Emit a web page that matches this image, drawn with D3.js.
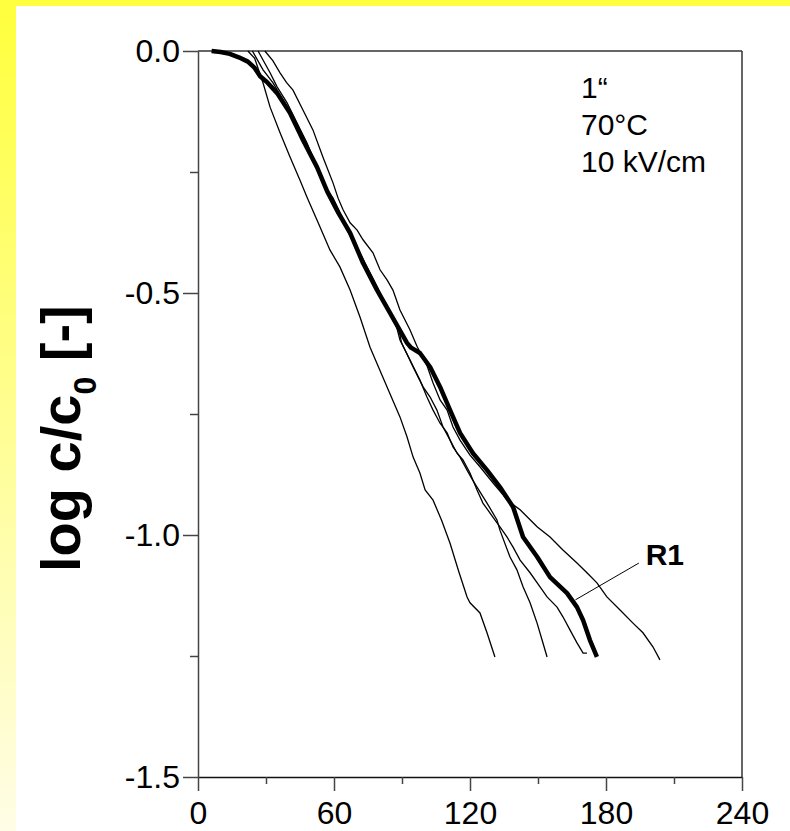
<!DOCTYPE html>
<html>
<head>
<meta charset="utf-8">
<script src="https://cdn.jsdelivr.net/npm/d3@7"></script>
<style>
  html, body { margin: 0; padding: 0; background: #fff; }
  svg { display: block; }
  text { font-family: "Liberation Sans", Arial, sans-serif; fill: #000; }
</style>
</head>
<body>
<div id="chart"></div>
<script>
// time on x, log c/c0 on y -- five runs, R1 drawn thick
const xTicks = [0, 60, 120, 180, 240];
const xMinor = [30, 90, 150, 210];
const yTicks = [0, -0.5, -1.0, -1.5];
const yMinor = [-0.25, -0.75, -1.25];

const r1X = [6, 10, 14, 18, 22, 25, 27.4, 30.4, 34.9, 40.6, 46.3, 52.5, 57, 62, 67.1, 72.8, 79, 84.7, 92.2, 94, 97.9, 102.4, 106.8, 111.2, 115.6, 121.3, 127.5, 133.2, 139, 143.4, 149.6, 155.3, 162.8, 167.2, 169.9, 172.9, 176];
const r1Y = [0, -0.002, -0.006, -0.013, -0.022, -0.035, -0.052, -0.064, -0.087, -0.128, -0.184, -0.240, -0.29, -0.335, -0.376, -0.438, -0.494, -0.541, -0.603, -0.613, -0.624, -0.653, -0.694, -0.742, -0.789, -0.831, -0.866, -0.901, -0.942, -1.004, -1.045, -1.087, -1.120, -1.149, -1.176, -1.217, -1.252];

const bX = [22, 25, 28.7, 31.8, 36.2, 40.6, 45, 48.1, 53.5, 58.2, 62.6, 67.1, 71.5, 75.9, 80, 84.5, 89.1, 92.2, 94.9, 97.9, 100.2, 103.7, 107.5, 111.2, 115, 118.7, 120, 124.4, 127.5, 131];
const bY = [0, -0.015, -0.066, -0.116, -0.169, -0.219, -0.267, -0.302, -0.36, -0.411, -0.446, -0.494, -0.550, -0.612, -0.657, -0.706, -0.756, -0.797, -0.839, -0.872, -0.907, -0.928, -0.97, -1.017, -1.075, -1.128, -1.140, -1.161, -1.202, -1.252];

const cX = [24, 28.7, 33.1, 37.5, 41.9, 46.3, 50.7, 55.1, 58.2, 62, 65.5, 69, 72.5, 76, 80, 84, 87.5, 89.1, 93.5, 97.9, 101, 103.7, 106.8, 109.9, 112.5, 115.6, 118.7, 121, 123.1, 127.5, 131.9, 133.2, 137.6, 140.7, 143.4, 146.5, 149.6, 151.8, 154];
const cY = [0, -0.039, -0.066, -0.101, -0.136, -0.178, -0.219, -0.267, -0.302, -0.335, -0.368, -0.398, -0.43, -0.462, -0.5, -0.535, -0.568, -0.597, -0.638, -0.680, -0.715, -0.742, -0.769, -0.789, -0.818, -0.839, -0.866, -0.885, -0.901, -0.934, -0.969, -0.990, -1.045, -1.072, -1.107, -1.140, -1.182, -1.217, -1.252];

const dX = [26.5, 31.8, 34.9, 39.3, 43.7, 48.1, 52.5, 56.9, 59.6, 63, 66.5, 70, 73.5, 77, 81, 85, 88.5, 89.8, 94.9, 99.3, 102.4, 105.4, 108.1, 111.2, 114.3, 116.9, 120, 123.1, 125.7, 130.1, 133.2, 136.3, 139, 142.1, 146.5, 150.9, 154, 158.4, 161, 164.1, 167.2, 169.9, 171.6];
const dY = [0, -0.045, -0.074, -0.107, -0.149, -0.190, -0.240, -0.287, -0.304, -0.338, -0.372, -0.404, -0.436, -0.468, -0.506, -0.54, -0.573, -0.603, -0.653, -0.694, -0.715, -0.742, -0.777, -0.804, -0.831, -0.845, -0.872, -0.907, -0.934, -0.963, -0.983, -1.004, -1.025, -1.052, -1.078, -1.107, -1.128, -1.149, -1.169, -1.196, -1.223, -1.244, -1.244];

const eX = [29.5, 33, 36.2, 39, 41.9, 46.3, 50.7, 55.1, 59.6, 61.8, 64, 67.1, 70.2, 72.8, 77.2, 80.3, 83.4, 86, 89.1, 93.5, 96.6, 101, 103.7, 106.8, 109.9, 112.5, 115.6, 120, 124.4, 130.1, 134.6, 136.3, 142.1, 149.6, 155.3, 161, 167.2, 171.6, 176, 180.4, 186.2, 191.9, 196.3, 200.7, 203.8];
const eY = [0, -0.02, -0.045, -0.065, -0.081, -0.122, -0.163, -0.219, -0.273, -0.304, -0.328, -0.355, -0.370, -0.390, -0.417, -0.452, -0.473, -0.494, -0.535, -0.576, -0.610, -0.650, -0.686, -0.721, -0.742, -0.777, -0.804, -0.835, -0.859, -0.892, -0.917, -0.928, -0.948, -0.983, -1.004, -1.031, -1.058, -1.078, -1.099, -1.128, -1.155, -1.182, -1.202, -1.231, -1.258];

const infoLines = ['1\u201C', '70\u00B0C', '10 kV/cm'];

const width = 790;
const height = 831;

const svg = d3.select('#chart')
  .append('svg')
  .attr('width', width)
  .attr('height', height);

// yellow slide border
const grad = svg.append('defs').append('linearGradient')
  .attr('id', 'strip')
  .attr('x1', 0).attr('y1', 0).attr('x2', 0).attr('y2', 1);
grad.append('stop').attr('offset', '0%').attr('stop-color', '#ffff3c');
grad.append('stop').attr('offset', '100%').attr('stop-color', '#fffde6');

svg.append('rect').attr('x', 0).attr('y', 0).attr('width', 16).attr('height', height).attr('fill', 'url(#strip)');
svg.append('rect').attr('x', 0).attr('y', 0).attr('width', width).attr('height', 6).attr('fill', '#ffff40');

const x = d3.scaleLinear().domain([0, 240]).range([198, 742]);
const y = d3.scaleLinear().domain([0, -1.5]).range([51, 777]);

const fmt = d => d.toFixed(1);

// frame: top and right
svg.append('line')
  .attr('x1', x(0)).attr('x2', x(240)).attr('y1', y(0)).attr('y2', y(0))
  .attr('stroke', '#333').attr('stroke-width', 1.5);
svg.append('line')
  .attr('x1', x(240)).attr('x2', x(240)).attr('y1', y(0)).attr('y2', y(-1.5))
  .attr('stroke', '#333').attr('stroke-width', 1.5);

// x axis
const gx = svg.append('g')
  .attr('transform', `translate(0, ${y(-1.5)})`)
  .call(d3.axisBottom(x).tickValues(xTicks).tickSize(14).tickPadding(10).tickSizeOuter(0));
svg.append('g')
  .attr('transform', `translate(0, ${y(-1.5)})`)
  .call(d3.axisBottom(x).tickValues(xMinor).tickSize(7).tickFormat('').tickSizeOuter(0))
  .select('.domain').remove();

// y axis
const gy = svg.append('g')
  .attr('transform', `translate(${x(0)}, 0)`)
  .call(d3.axisLeft(y).tickValues(yTicks).tickSize(15).tickPadding(3).tickFormat(fmt).tickSizeOuter(0));
svg.append('g')
  .attr('transform', `translate(${x(0)}, 0)`)
  .call(d3.axisLeft(y).tickValues(yMinor).tickSize(8).tickFormat('').tickSizeOuter(0))
  .select('.domain').remove();

svg.selectAll('.tick text')
  .style('font-family', '"Liberation Sans", Arial, sans-serif')
  .style('font-size', '32px')
  .attr('fill', '#000');
svg.selectAll('.domain, .tick line').attr('stroke', '#444').attr('stroke-width', 1.5);
gx.select('.domain').attr('stroke', '#111');

// curves
const line = d3.line()
  .x(d => x(d[0]))
  .y(d => y(d[1]));

const thin = [[bX, bY], [cX, cY], [dX, dY], [eX, eY]];
thin.forEach(([xs, ys]) => {
  svg.append('path')
    .datum(xs.map((v, i) => [v, ys[i]]))
    .attr('fill', 'none')
    .attr('stroke', '#000')
    .attr('stroke-width', 1.3)
    .attr('d', line);
});

svg.append('path')
  .datum(r1X.map((v, i) => [v, r1Y[i]]))
  .attr('fill', 'none')
  .attr('stroke', '#000')
  .attr('stroke-width', 4.5)
  .attr('stroke-linejoin', 'round')
  .attr('d', line);

// R1 label with leader
svg.append('line')
  .attr('x1', x(166.5)).attr('y1', y(-1.134))
  .attr('x2', x(194.5)).attr('y2', y(-1.058))
  .attr('stroke', '#000').attr('stroke-width', 1);
svg.append('text')
  .attr('x', x(197.5)).attr('y', y(-1.058) + 2)
  .attr('font-size', 30).attr('font-weight', 'bold')
  .text('R1');

// conditions
svg.append('g')
  .selectAll('text')
  .data(infoLines)
  .join('text')
  .attr('x', 581)
  .attr('y', (d, i) => 98 + i * 37)
  .attr('font-size', 30)
  .text(d => d);

// y title
const title = svg.append('g')
  .attr('transform', 'translate(80, 572) rotate(-90)');
const tt = title.append('text')
  .attr('font-weight', 'bold')
  .attr('font-size', 56);
tt.append('tspan').text('log c/c');
tt.append('tspan').attr('font-size', 32).attr('dy', 16).text('0');
tt.append('tspan').attr('dy', -16).text(' [-]');
</script>
</body>
</html>
